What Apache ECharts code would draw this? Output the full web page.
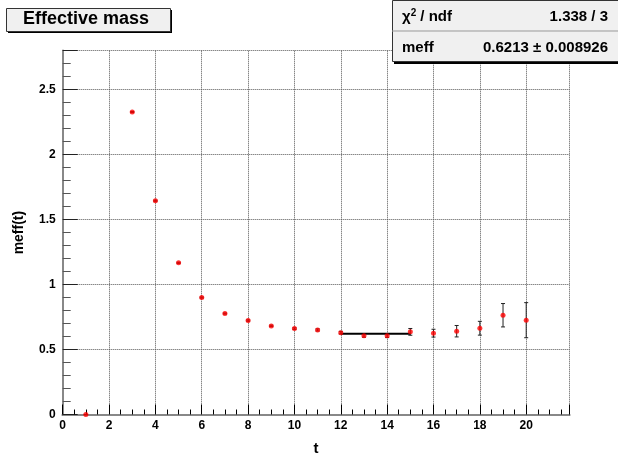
<!DOCTYPE html>
<html>
<head>
<meta charset="utf-8">
<title>Effective mass</title>
<script src="https://cdn.jsdelivr.net/npm/echarts@6/dist/echarts.min.js"></script>
<style>
  html, body { margin: 0; padding: 0; background: #fff; }
  #main { width: 618px; height: 455px; }
</style>
</head>
<body>
<div id="main"></div>
<script>
// effective mass per time slice
var tVals = [1, 3, 4, 5, 6, 7, 8, 9, 10, 11, 12, 13, 14, 15, 16, 17, 18, 19, 20];
var meffVals = [0, 2.328, 1.645, 1.167, 0.900, 0.777, 0.723, 0.682, 0.661, 0.651,
                0.630, 0.607, 0.607, 0.636, 0.626, 0.641, 0.664, 0.764, 0.726];
var meffErr = [0, 0.004, 0.004, 0.004, 0.004, 0.004, 0.005, 0.005, 0.006, 0.008,
               0.010, 0.012, 0.015, 0.026, 0.030, 0.044, 0.053, 0.090, 0.135];

// constant fit over t = 12..15
var fitRange = [12, 15];
var fitValue = 0.6213;
var statLabels = ['χ² / ndf', 'meff'];
var statValues = ['1.338 / 3', '0.6213 ± 0.008926'];

var pts = [], bars = [];
for (var i = 0; i < tVals.length; i++) {
	pts.push([tVals[i], meffVals[i]]);
	bars.push([tVals[i], meffVals[i] - meffErr[i], meffVals[i] + meffErr[i]]);
}

var FONT = '"Liberation Sans", Arial, Helvetica, sans-serif';
var myChart = echarts.init(document.getElementById('main'), null, {renderer: 'canvas'});

var option = {
	backgroundColor: '#ffffff',
	animation: false,
	grid: { left: 62.7, right: 48.7, top: 50.7, bottom: 40.5, containLabel: false, outerBoundsMode: 'none' },
	xAxis: [{
		type: 'value', min: 0, max: 21.86, interval: 2,
		name: 't', nameLocation: 'middle', nameGap: 27,
		nameTextStyle: { fontFamily: FONT, fontWeight: 'bold', fontSize: 15, color: '#000' },
		axisLine: { onZero: false, lineStyle: { color: '#000', width: 2 } },
		axisTick: { inside: true, length: 10, lineStyle: { color: '#000', width: 1 } },
		minorTick: { show: true, splitNumber: 4, length: 5, lineStyle: { color: '#000', width: 1 } },
		axisLabel: { showMaxLabel: false, margin: 5, fontFamily: FONT, fontWeight: 'bold', fontSize: 12, color: '#000' },
		splitLine: { show: true, lineStyle: { color: '#555', type: [1, 1], width: 1 } }
	}, {
		type: 'value', position: 'top', min: 0, max: 21.86,
		axisLine: { show: true, lineStyle: { color: '#888', width: 2 } },
		axisTick: { show: false }, axisLabel: { show: false }, splitLine: { show: false }
	}],
	yAxis: [{
		type: 'value', min: 0, max: 2.8, interval: 0.5,
		name: 'meff(t)', nameLocation: 'middle', nameGap: 37, nameRotate: 90,
		nameTextStyle: { fontFamily: FONT, fontWeight: 'bold', fontSize: 14, color: '#000' },
		axisLine: { show: true, onZero: false, lineStyle: { color: '#000', width: 2 } },
		axisTick: { inside: true, length: 15, lineStyle: { color: '#222', width: 1 } },
		minorTick: { show: true, splitNumber: 5, length: 8, lineStyle: { color: '#555', width: 1 } },
		axisLabel: { showMaxLabel: false, margin: 7, fontFamily: FONT, fontWeight: 'bold', fontSize: 12, color: '#000',
			formatter: function (v) { return String(+v.toFixed(1)); } },
		splitLine: { show: true, lineStyle: { color: '#555', type: [1, 1], width: 1 } }
	}, {
		type: 'value', position: 'right', min: 0, max: 2.8,
		axisLine: { show: true, lineStyle: { color: '#888', width: 2 } },
		axisTick: { show: false }, axisLabel: { show: false }, splitLine: { show: false }
	}],
	series: [{
		name: 'errors',
		type: 'custom',
		xAxisIndex: 0, yAxisIndex: 0,
		clip: false,
		data: bars,
		renderItem: function (params, api) {
			var lo = api.coord([api.value(0), api.value(1)]);
			var hi = api.coord([api.value(0), api.value(2)]);
			var c = 2;
			var st = { stroke: '#222', lineWidth: 1 };
			return {
				type: 'group',
				children: [
					{ type: 'line', shape: { x1: lo[0], y1: lo[1], x2: hi[0], y2: hi[1] }, style: st },
					{ type: 'line', shape: { x1: lo[0] - c, y1: lo[1], x2: lo[0] + c, y2: lo[1] }, style: st },
					{ type: 'line', shape: { x1: hi[0] - c, y1: hi[1], x2: hi[0] + c, y2: hi[1] }, style: st }
				]
			};
		}
	}, {
		name: 'fit',
		type: 'line',
		data: [[fitRange[0], fitValue], [fitRange[1], fitValue]],
		showSymbol: false,
		lineStyle: { color: '#000', width: 2 },
		z: 3
	}, {
		name: 'meff',
		type: 'scatter',
		data: pts,
		symbol: 'circle',
		symbolSize: 5,
		clip: false,
		itemStyle: { color: '#ff0000' },
		z: 4
	}],
	graphic: [
		// title box
		{ type: 'rect', left: 8, top: 10, shape: { width: 164, height: 23 }, style: { fill: '#000' }, z: 10 },
		{ type: 'rect', left: 6, top: 8, shape: { width: 164, height: 23 }, style: { fill: '#f0f0f0', stroke: '#333', lineWidth: 1 }, z: 11 },
		{ type: 'text', left: 23, top: 10, style: { text: 'Effective mass', font: 'bold 18px ' + FONT, fill: '#000' }, z: 12 },
		// stats box
		{ type: 'rect', left: 394, top: 3, shape: { width: 230, height: 61 }, style: { fill: '#000' }, z: 10 },
		{ type: 'rect', left: 392, top: 0, shape: { width: 230, height: 61 }, style: { fill: '#f0f0f0', stroke: '#333', lineWidth: 1 }, z: 11 },
		{ type: 'line', shape: { x1: 392, y1: 31, x2: 618, y2: 31 }, style: { stroke: '#999', lineWidth: 1 }, z: 12 },
		{ type: 'text', left: 402, top: 8, style: { rich: { b: { font: 'bold 15px ' + FONT }, s: { font: 'bold 10px ' + FONT, verticalAlign: 'top', padding: [0, 0, 8, 0] } },
			text: '{b|χ}{s|2}{b| / ndf}', fill: '#000' }, z: 12 },
		{ type: 'text', right: 10, top: 9, style: { text: statValues[0], font: 'bold 15px ' + FONT, fill: '#000' }, z: 12 },
		{ type: 'text', left: 402, top: 40, style: { text: statLabels[1], font: 'bold 15px ' + FONT, fill: '#000' }, z: 12 },
		{ type: 'text', right: 10, top: 40, style: { text: statValues[1], font: 'bold 15px ' + FONT, fill: '#000' }, z: 12 }
	]
};
myChart.setOption(option);
</script>
</body>
</html>
